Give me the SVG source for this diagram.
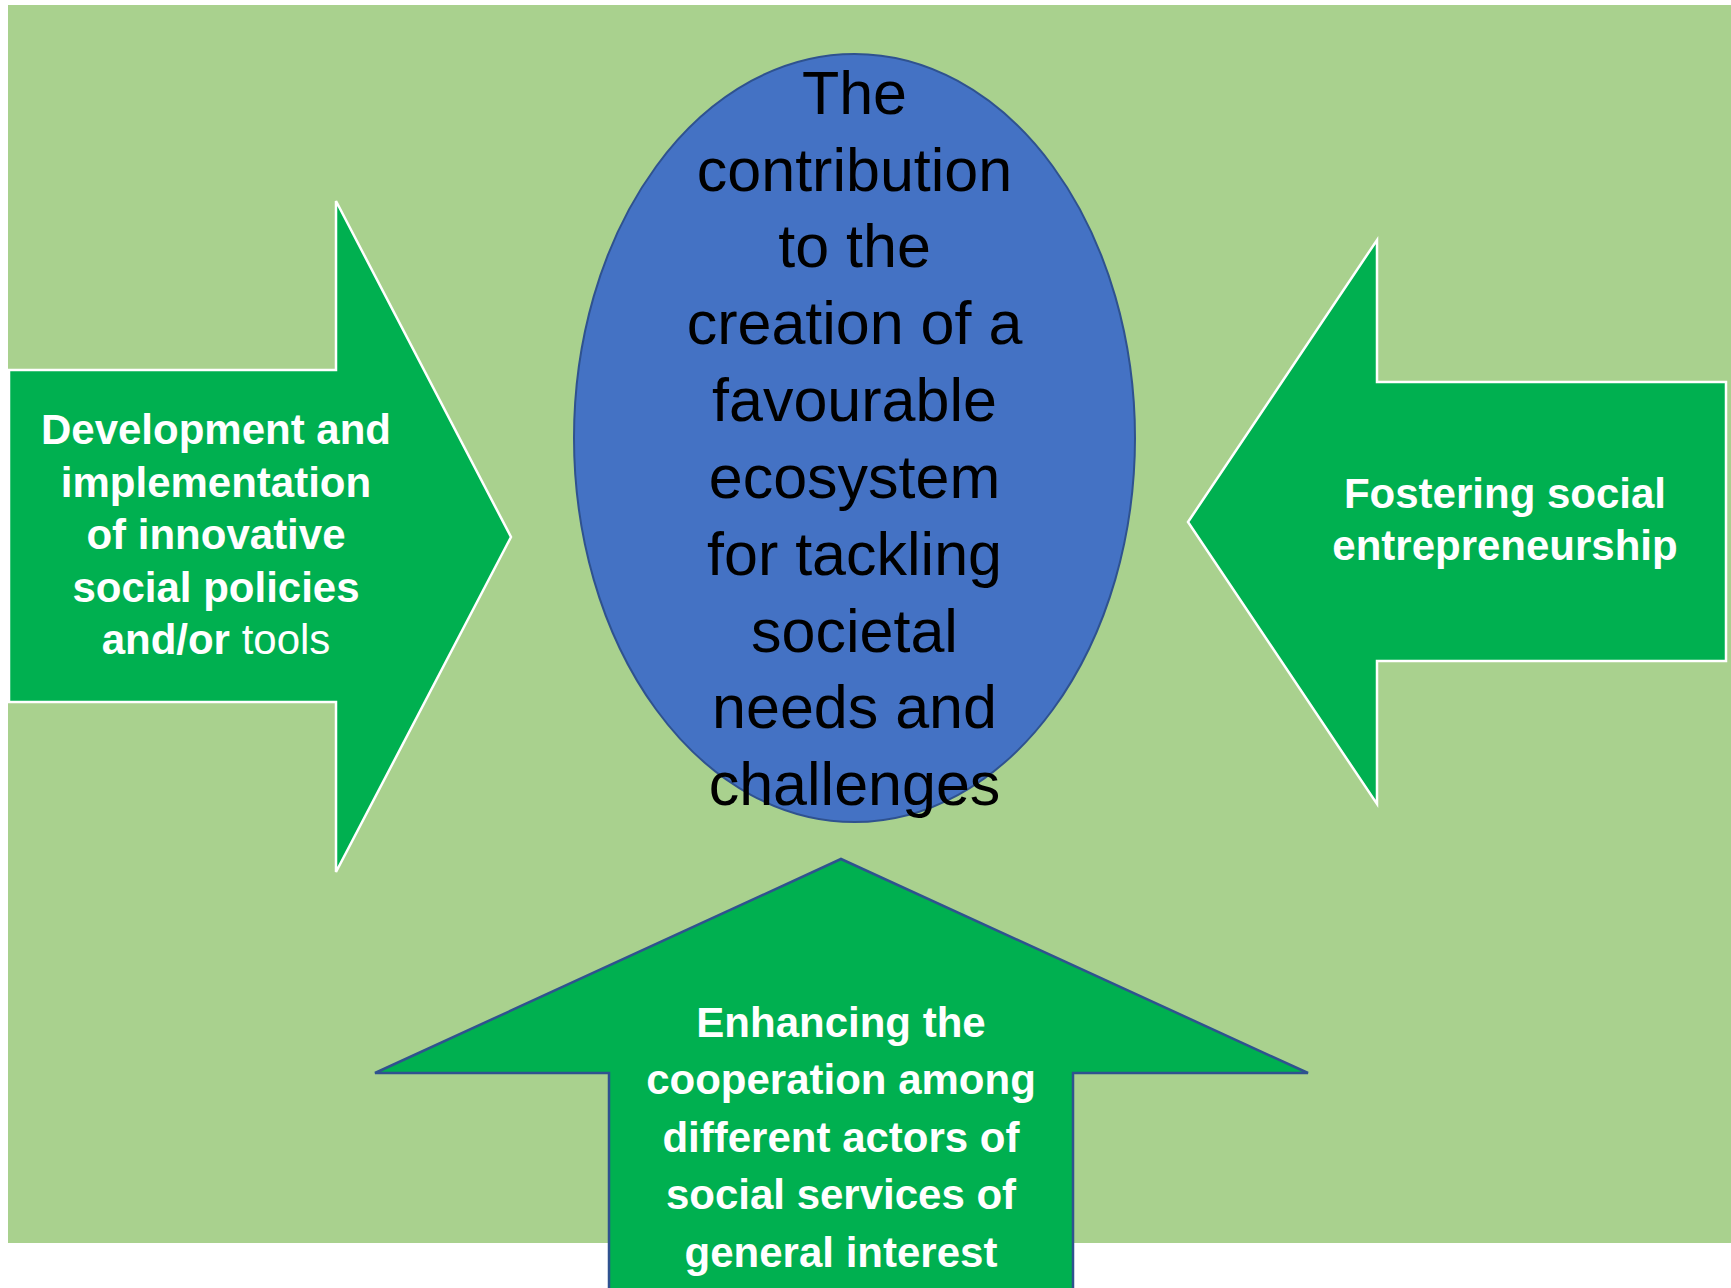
<svg xmlns="http://www.w3.org/2000/svg" width="1731" height="1288" viewBox="0 0 1731 1288">
<style>
.bg{fill:#A9D18E}
.arrow{fill:#00B050;stroke:#FFFFFF;stroke-width:2.5}
.arrow-b{fill:#00B050;stroke:#2F528F;stroke-width:2.5}
.ell{fill:#4472C4;stroke:#2F528F;stroke-width:2}
.main{font-family:"Liberation Sans",Arial,sans-serif;font-size:61px;fill:#000000;text-anchor:middle}
.lbl{font-family:"Liberation Sans",Arial,sans-serif;font-size:42px;font-weight:bold;fill:#FFFFFF;text-anchor:middle}
.reg{font-weight:normal}
</style>
<rect class="bg" x="8" y="5" width="1723" height="1238"/>
<g id="connectors">
<g id="arrow-left">
<polygon class="arrow" points="9,370 336,370 336,201 511,537 336,872 336,702 9,702"/>
<text class="lbl" x="216" y="444">Development and</text>
<text class="lbl" x="216" y="497">implementation</text>
<text class="lbl" x="216" y="549">of innovative</text>
<text class="lbl" x="216" y="602">social policies</text>
<text class="lbl" x="216" y="654">and/or <tspan class="reg">tools</tspan></text>
</g>
<g id="arrow-right">
<polygon class="arrow" points="1726,382 1377,382 1377,240 1188,522 1377,804 1377,661 1726,661"/>
<text class="lbl" x="1505" y="508">Fostering social</text>
<text class="lbl" x="1505" y="560">entrepreneurship</text>
</g>
<g id="arrow-bottom">
<polygon class="arrow-b" points="609,1290 609,1073 375,1073 841,859 1308,1073 1073,1073 1073,1290"/>
<text class="lbl" x="841" y="1037">Enhancing the</text>
<text class="lbl" x="841" y="1094">cooperation among</text>
<text class="lbl" x="841" y="1152">different actors of</text>
<text class="lbl" x="841" y="1209">social services of</text>
<text class="lbl" x="841" y="1267">general interest</text>
</g>
</g>
<g id="center">
<ellipse class="ell" cx="854.5" cy="438" rx="280.5" ry="384"/>
<text class="main" x="854.5" y="114">The</text>
<text class="main" x="854.5" y="191">contribution</text>
<text class="main" x="854.5" y="267">to the</text>
<text class="main" x="854.5" y="344">creation of a</text>
<text class="main" x="854.5" y="421">favourable</text>
<text class="main" x="854.5" y="498">ecosystem</text>
<text class="main" x="854.5" y="575">for tackling</text>
<text class="main" x="854.5" y="652">societal</text>
<text class="main" x="854.5" y="728">needs and</text>
<text class="main" x="854.5" y="805">challenges</text>
</g>
</svg>
